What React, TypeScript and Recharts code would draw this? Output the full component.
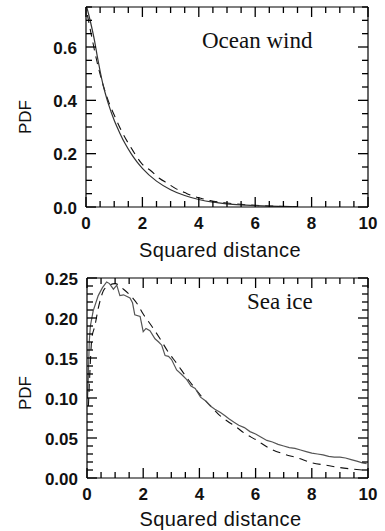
import { LineChart, Line, XAxis, YAxis, Label, ReferenceLine } from 'recharts'

/* ─── Data ─── */

const xTicks = [0, 0.5, 1, 1.5, 2, 2.5, 3, 3.5, 4, 4.5, 5, 5.5, 6, 6.5, 7, 7.5, 8, 8.5, 9, 9.5, 10]
const xMajor = [0, 2, 4, 6, 8, 10]

const windTicks = [0, 0.05, 0.1, 0.15, 0.2, 0.25, 0.3, 0.35, 0.4, 0.45, 0.5, 0.55, 0.6, 0.65, 0.7, 0.75]
const windMajor = [0, 0.2, 0.4, 0.6]

const iceTicks = [
  0, 0.01, 0.02, 0.03, 0.04, 0.05, 0.06, 0.07, 0.08, 0.09, 0.1, 0.11, 0.12, 0.13, 0.14, 0.15, 0.16, 0.17,
  0.18, 0.19, 0.2, 0.21, 0.22, 0.23, 0.24, 0.25,
]
const iceMajor = [0, 0.05, 0.1, 0.15, 0.2, 0.25]

// Ocean wind: empirical (solid) and model (dashed)
const windSolidX = [0, 0.1, 0.2, 0.3, 0.4, 0.5, 0.6, 0.7, 0.8, 1.0, 1.2, 1.4, 1.6, 1.8, 2.0, 2.5, 3.0, 3.5, 4.0, 4.5, 5.0, 5.5, 6.0, 6.5, 7.0, 7.5]
const windSolidPdf = [0.76, 0.72, 0.675, 0.625, 0.565, 0.51, 0.46, 0.42, 0.385, 0.325, 0.277, 0.235, 0.2, 0.17, 0.145, 0.097, 0.065, 0.043, 0.028, 0.018, 0.012, 0.008, 0.005, 0.003, 0.002, 0.001]
const windDashX = [0.05, 0.2, 0.4, 0.6, 0.8, 1.0, 1.25, 1.6, 2.0, 2.3, 2.6, 2.9, 3.2, 3.5, 3.8, 4.1, 4.4, 5.0, 5.5, 6.0, 6.5, 7.0, 7.5]
const windDashPdf = [0.72, 0.64, 0.54, 0.46, 0.395, 0.345, 0.287, 0.222, 0.16, 0.136, 0.108, 0.088, 0.068, 0.054, 0.041, 0.032, 0.024, 0.015, 0.01, 0.006, 0.004, 0.002, 0.001]

// Sea ice
const iceSolidX = [
  0.02, 0.05, 0.08, 0.12, 0.22, 0.4, 0.55, 0.7, 0.8, 0.94, 1.06, 1.17, 1.3, 1.53, 1.62, 1.7, 1.89, 2.0, 2.1, 2.24,
  2.42, 2.55, 2.66, 2.78, 2.9, 3.01, 3.19, 3.35, 3.55, 3.7, 3.85, 4.04, 4.2, 4.39, 4.55, 4.75, 4.9, 5.05, 5.22, 5.4,
  5.6, 5.8, 6.0, 6.2, 6.4, 6.6, 6.8, 7.0, 7.2, 7.4, 7.6, 7.8, 8.0, 8.2, 8.4, 8.6, 8.8, 9.0, 9.2, 9.4, 9.6, 9.8, 9.95,
]
const iceSolidPdf = [
  0.1, 0.13, 0.17, 0.19, 0.209, 0.228, 0.238, 0.245, 0.243, 0.236, 0.241, 0.228, 0.229, 0.225, 0.219, 0.204, 0.202,
  0.183, 0.187, 0.184, 0.174, 0.17, 0.166, 0.153, 0.152, 0.148, 0.135, 0.13, 0.123, 0.115, 0.112, 0.101, 0.097, 0.09,
  0.086, 0.082, 0.078, 0.074, 0.07, 0.066, 0.063, 0.058, 0.055, 0.051, 0.047, 0.045, 0.042, 0.04, 0.038, 0.037, 0.035,
  0.033, 0.031, 0.03, 0.029, 0.027, 0.026, 0.026, 0.025, 0.023, 0.021, 0.019, 0.018,
]
const iceDashX = [0.05, 0.1, 0.17, 0.28, 0.4, 0.64, 1.0, 1.3, 1.6, 1.8, 2.0, 2.3, 2.6, 2.9, 3.2, 3.5, 3.8, 4.1, 4.4, 4.7, 5.0, 5.3, 5.6, 6.0, 6.5, 7.0, 7.5, 8.0, 8.5, 9.0, 9.5, 9.8]
const iceDashPdf = [0.09, 0.13, 0.174, 0.19, 0.212, 0.237, 0.243, 0.236, 0.226, 0.217, 0.205, 0.19, 0.174, 0.157, 0.143, 0.128, 0.114, 0.101, 0.09, 0.079, 0.071, 0.064, 0.056, 0.048, 0.037, 0.03, 0.025, 0.019, 0.016, 0.013, 0.011, 0.01]

/* ─── Helpers ─── */

const CHART_W = 385

const zip = (xs: number[], ys: number[]) => xs.map((x, i) => ({ x, y: ys[i] }))

const isMajor = (v: number, majors: number[]) => majors.some((m) => Math.abs(m - v) < 1e-6)

const tickFont = {
  fontFamily: '"Liberation Sans", Arial, sans-serif',
  fontWeight: 700,
  fontSize: 17,
  fill: '#111',
}

// bottom axis tick: inward tick at the bottom + mirrored one on the top frame
function makeXTick(majors: number[], plotTop: number) {
  return (props: any) => {
    const { x, y, payload } = props
    const major = isMajor(payload.value, majors)
    const len = major ? 10 : 6
    return (
      <g>
        <line x1={x} x2={x} y1={y} y2={y - len} stroke="#000" strokeWidth={1.3} />
        <line x1={x} x2={x} y1={plotTop} y2={plotTop + len} stroke="#000" strokeWidth={1.3} />
        {major && (
          <text x={x} y={y + 16} textAnchor="middle" dominantBaseline="central" {...tickFont}>
            {payload.value}
          </text>
        )}
      </g>
    )
  }
}

// left axis tick: inward tick on the left + mirrored one on the right frame
function makeYTick(majors: number[], digits: number, plotRight: number) {
  return (props: any) => {
    const { x, y, payload } = props
    const major = isMajor(payload.value, majors)
    const len = major ? 10 : 6
    return (
      <g>
        <line x1={x} x2={x + len} y1={y} y2={y} stroke="#000" strokeWidth={1.3} />
        <line x1={plotRight} x2={plotRight - len} y1={y} y2={y} stroke="#000" strokeWidth={1.3} />
        {major && (
          <text x={x - 9} y={y + 1} textAnchor="end" dominantBaseline="central" {...tickFont}>
            {payload.value.toFixed(digits)}
          </text>
        )}
      </g>
    )
  }
}

const labelFont = {
  fontFamily: '"Liberation Sans", Arial, sans-serif',
  fill: '#111',
}

function xTitle(offset: number) {
  return (props: any) => {
    const vb = props.viewBox
    return (
      <text
        x={vb.x + vb.width / 2 - 7}
        y={vb.y + offset}
        textAnchor="middle"
        dominantBaseline="central"
        fontSize={20}
        letterSpacing={0.4}
        {...labelFont}
      >
        Squared distance
      </text>
    )
  }
}

function yTitle(shift: number) {
  return (props: any) => {
    const vb = props.viewBox
    const cx = 25
    const cy = vb.y + vb.height / 2 + shift
    return (
      <text
        x={cx}
        y={cy}
        textAnchor="middle"
        dominantBaseline="central"
        fontSize={17}
        transform={`rotate(-90, ${cx}, ${cy})`}
        {...labelFont}
      >
        PDF
      </text>
    )
  }
}

/* ─── One panel ─── */

interface PanelProps {
  solid: { x: number; y: number }[]
  dashed: { x: number; y: number }[]
  yMax: number
  yTicks: number[]
  yMajor: number[]
  digits: number
  height: number
  margin: { top: number; right: number; bottom: number; left: number }
  yAxisWidth: number
  solidColor: string
  solidType: 'linear' | 'monotone'
  xTitleOffset: number
  yTitleShift: number
}

function Panel(p: PanelProps) {
  const plotTop = p.margin.top
  const plotRight = CHART_W - p.margin.right
  return (
    <LineChart width={CHART_W} height={p.height} margin={p.margin}>
      <XAxis
        dataKey="x"
        type="number"
        domain={[0, 10]}
        ticks={xTicks}
        interval={0}
        allowDataOverflow
        height={50}
        tickSize={0}
        tickMargin={0}
        tickLine={false}
        tick={makeXTick(xMajor, plotTop)}
        axisLine={{ stroke: '#000', strokeWidth: 1.2 }}
      >
        <Label content={xTitle(p.xTitleOffset)} />
      </XAxis>
      <YAxis
        type="number"
        domain={[0, p.yMax]}
        ticks={p.yTicks}
        interval={0}
        allowDataOverflow
        width={p.yAxisWidth}
        tickSize={0}
        tickMargin={0}
        tickLine={false}
        tick={makeYTick(p.yMajor, p.digits, plotRight)}
        axisLine={{ stroke: '#000', strokeWidth: 1.2 }}
      >
        <Label content={yTitle(p.yTitleShift)} />
      </YAxis>
      {/* top and right sides of the frame */}
      <ReferenceLine y={p.yMax} stroke="#000" strokeWidth={1.2} />
      <ReferenceLine x={10} stroke="#000" strokeWidth={1.2} />
      <Line
        data={p.dashed}
        dataKey="y"
        type="monotone"
        stroke="#111"
        strokeWidth={1.1}
        strokeDasharray="8 6"
        dot={false}
        isAnimationActive={false}
      />
      <Line
        data={p.solid}
        dataKey="y"
        type={p.solidType}
        stroke={p.solidColor}
        strokeWidth={1.2}
        dot={false}
        isAnimationActive={false}
      />
    </LineChart>
  )
}

const titleStyle: React.CSSProperties = {
  position: 'absolute',
  fontFamily: '"Liberation Serif", "Times New Roman", serif',
  fontSize: 23,
  lineHeight: '23px',
  color: '#111',
  whiteSpace: 'nowrap',
}

export default function App() {
  return (
    <div style={{ position: 'absolute', left: 0, top: 0, width: 385, height: 531, background: '#fff' }}>
      <div style={{ position: 'absolute', left: 0, top: 0 }}>
        <Panel
          solid={zip(windSolidX, windSolidPdf)}
          dashed={zip(windDashX, windDashPdf)}
          yMax={0.75}
          yTicks={windTicks}
          yMajor={windMajor}
          digits={1}
          height={265}
          margin={{ top: 7, right: 17, bottom: 8, left: 0 }}
          yAxisWidth={86}
          solidColor="#333"
          solidType="monotone"
          xTitleOffset={43}
          yTitleShift={10}
        />
      </div>
      <div style={{ position: 'absolute', left: 0, top: 265 }}>
        <Panel
          solid={zip(iceSolidX, iceSolidPdf)}
          dashed={zip(iceDashX, iceDashPdf)}
          yMax={0.25}
          yTicks={iceTicks}
          yMajor={iceMajor}
          digits={2}
          height={266}
          margin={{ top: 13, right: 17, bottom: 3, left: 0 }}
          yAxisWidth={87}
          solidColor="#555"
          solidType="linear"
          xTitleOffset={41}
          yTitleShift={15}
        />
      </div>
      <div style={{ ...titleStyle, left: 202, top: 29 }}>Ocean wind</div>
      <div style={{ ...titleStyle, left: 247, top: 290 }}>Sea ice</div>
    </div>
  )
}
